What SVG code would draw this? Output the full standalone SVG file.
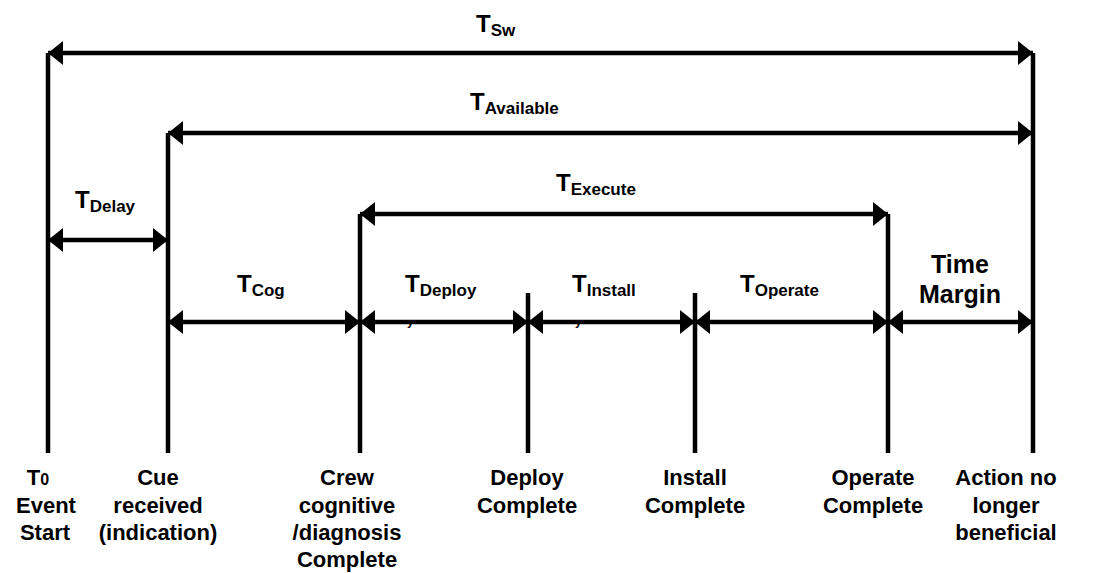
<svg xmlns="http://www.w3.org/2000/svg" width="1105" height="573" viewBox="0 0 1105 573">
<style>
.ln{stroke:#000;stroke-width:4.5;fill:none}
.ar{stroke:#000;stroke-width:4.5;fill:none;marker-start:url(#ah);marker-end:url(#ah)}
text{font-family:"Liberation Sans",Arial,sans-serif;font-weight:bold;fill:#000}
.t{font-size:24px}
.s{font-size:17px}
.lab{font-size:22px;text-anchor:middle}
.tm{font-size:25px;text-anchor:middle}
.frag{font-size:12px}
</style>
<defs>
<marker id="ah" markerUnits="userSpaceOnUse" markerWidth="16" markerHeight="26" viewBox="0 -13 16 26" refX="15" refY="0" orient="auto-start-reverse">
<path d="M0,-12 L15,0 L0,12 Z" fill="#000"/>
</marker>
<clipPath id="below"><rect x="0" y="324" width="1105" height="10"/></clipPath>
</defs>
<rect width="1105" height="573" fill="#fff"/>
<g id="fragments" clip-path="url(#below)">
<text class="frag" x="407" y="325">y</text>
<text class="frag" x="575" y="325">y</text>
</g>
<g id="markers">
<g id="t0"><line class="ln" x1="48" y1="53" x2="48" y2="453"/></g>
<g id="cue"><line class="ln" x1="168" y1="133" x2="168" y2="453"/></g>
<g id="crew"><line class="ln" x1="360" y1="214" x2="360" y2="453"/></g>
<g id="deploy"><line class="ln" x1="528" y1="293" x2="528" y2="453"/></g>
<g id="install"><line class="ln" x1="695" y1="293" x2="695" y2="453"/></g>
<g id="operate"><line class="ln" x1="888" y1="214" x2="888" y2="453"/></g>
<g id="action"><line class="ln" x1="1033" y1="53" x2="1033" y2="453"/></g>
</g>
<g id="connectors">
<line class="ar" x1="48" y1="53" x2="1033" y2="53"/>
<line class="ar" x1="168" y1="133" x2="1033" y2="133"/>
<line class="ar" x1="360" y1="214" x2="888" y2="214"/>
<line class="ar" x1="48" y1="240" x2="168" y2="240"/>
<line class="ar" x1="168" y1="322" x2="360" y2="322"/>
<line class="ar" x1="360" y1="322" x2="528" y2="322"/>
<line class="ar" x1="528" y1="322" x2="695" y2="322"/>
<line class="ar" x1="695" y1="322" x2="888" y2="322"/>
<line class="ar" x1="888" y1="322" x2="1033" y2="322"/>
</g>
<g id="durations">
<text class="t" x="476" y="32">T<tspan class="s" dy="4">Sw</tspan></text>
<text class="t" x="470" y="110">T<tspan class="s" dy="4">Available</tspan></text>
<text class="t" x="556" y="191">T<tspan class="s" dy="4">Execute</tspan></text>
<text class="t" x="75" y="208">T<tspan class="s" dy="4">Delay</tspan></text>
<text class="t" x="237" y="292">T<tspan class="s" dy="4">Cog</tspan></text>
<text class="t" x="405" y="292">T<tspan class="s" dy="4">Deploy</tspan></text>
<text class="t" x="572" y="292">T<tspan class="s" dy="4">Install</tspan></text>
<text class="t" x="740" y="292">T<tspan class="s" dy="4">Operate</tspan></text>
<text class="tm" x="960" y="273">Time</text>
<text class="tm" x="960" y="303">Margin</text>
</g>
<g id="labels">
<text class="lab" x="38" y="485">T<tspan style="font-size:16px">0</tspan></text>
<text class="lab" x="46" y="513">Event</text>
<text class="lab" x="45" y="540">Start</text>
<text class="lab" x="158" y="485">Cue</text>
<text class="lab" x="158" y="513">received</text>
<text class="lab" x="158" y="540">(indication)</text>
<text class="lab" x="347" y="485">Crew</text>
<text class="lab" x="347" y="513">cognitive</text>
<text class="lab" x="347" y="540">/diagnosis</text>
<text class="lab" x="347" y="567">Complete</text>
<text class="lab" x="527" y="485">Deploy</text>
<text class="lab" x="527" y="513">Complete</text>
<text class="lab" x="695" y="485">Install</text>
<text class="lab" x="695" y="513">Complete</text>
<text class="lab" x="873" y="485">Operate</text>
<text class="lab" x="873" y="513">Complete</text>
<text class="lab" x="1006" y="485">Action no</text>
<text class="lab" x="1006" y="513">longer</text>
<text class="lab" x="1006" y="540">beneficial</text>
</g>
</svg>
